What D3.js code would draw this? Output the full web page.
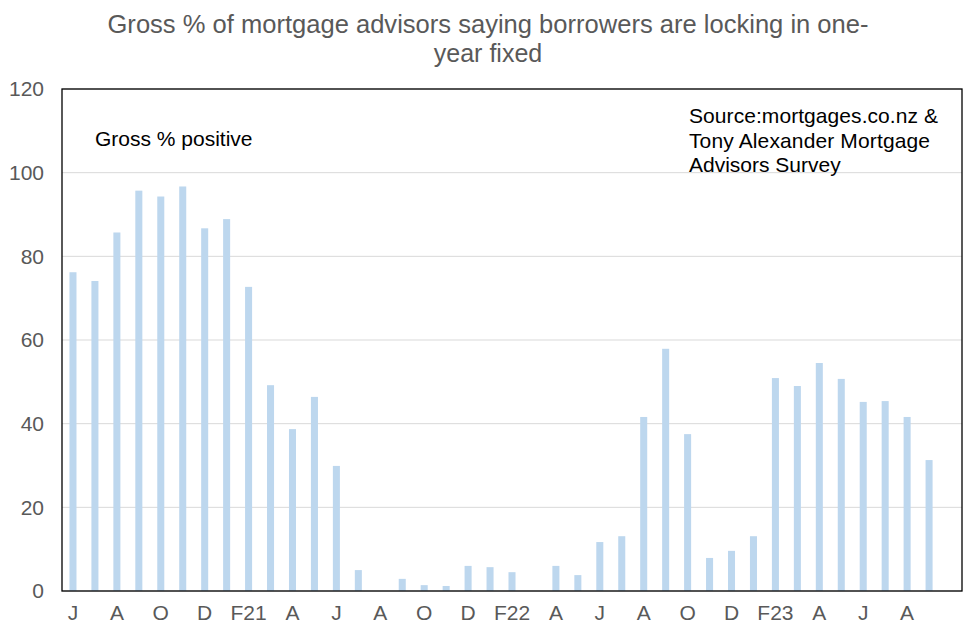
<!DOCTYPE html>
<html>
<head>
<meta charset="utf-8">
<script src="https://cdn.jsdelivr.net/npm/d3@7"></script>
<style>
  body { margin: 0; background: #fff; }
  text { font-family: "Liberation Sans", Arial, sans-serif; }
</style>
</head>
<body>
<div id="chart"></div>
<script>
// monthly survey, Jun 2020 .. Oct 2023
const months = ["Jun20","Jul20","Aug20","Sep20","Oct20","Nov20","Dec20","Jan21","Feb21","Mar21",
  "Apr21","May21","Jun21","Jul21","Aug21","Sep21","Oct21","Nov21","Dec21","Jan22",
  "Feb22","Mar22","Apr22","May22","Jun22","Jul22","Aug22","Sep22","Oct22","Nov22",
  "Dec22","Jan23","Feb23","Mar23","Apr23","May23","Jun23","Jul23","Aug23","Sep23","Oct23"];

const tickLabels = ["J","","A","","O","","D","","F21","","A","","J","","A","","O","","D","",
  "F22","","A","","J","","A","","O","","D","","F23","","A","","J","","A","",""];

const grossPositive = [76.2,74.1,85.7,95.7,94.3,96.7,86.7,88.9,72.7,49.2,
  38.7,46.4,29.9,5.0,null,2.9,1.4,1.2,6.0,5.7,
  4.5,null,6.0,3.8,11.7,13.1,41.6,57.9,37.5,7.9,
  9.6,13.1,50.9,49.0,54.5,50.7,45.2,45.4,41.6,31.3,null];

const yTicks = [0,20,40,60,80,100,120];

const width = 976;
const height = 638;
const margin = {left:62, right:14, top:89, bottom:47};

const svg = d3.select("#chart")
  .append("svg")
  .attr("width", width)
  .attr("height", height);

const xScale = d3.scaleBand()
  .domain(months)
  .range([margin.left, width - margin.right])
  .paddingInner(0.68)
  .paddingOuter(0.34);

const yScale = d3.scaleLinear()
  .domain([0,120])
  .range([height - margin.bottom, margin.top]);

// gridlines
svg.append("g")
  .selectAll("line")
  .data(yTicks)
  .enter()
  .append("line")
    .attr("x1", margin.left)
    .attr("x2", width - margin.right)
    .attr("y1", d => yScale(d))
    .attr("y2", d => yScale(d))
    .attr("stroke", "#d9d9d9")
    .attr("stroke-width", 1);

// bars
svg.selectAll(".bar")
  .data(grossPositive.map((v,i) => ({month: months[i], value: v})).filter(d => d.value != null))
  .enter()
  .append("rect")
    .attr("class", "bar")
    .attr("x", d => xScale(d.month))
    .attr("y", d => yScale(d.value))
    .attr("width", xScale.bandwidth())
    .attr("height", d => yScale(0) - yScale(d.value))
    .attr("fill", "#bdd7ee");

// plot border
svg.append("rect")
  .attr("x", margin.left)
  .attr("y", margin.top)
  .attr("width", width - margin.left - margin.right)
  .attr("height", height - margin.top - margin.bottom)
  .attr("fill", "none")
  .attr("stroke", "#000")
  .attr("stroke-width", 1.3);

// y axis
const yAxis = svg.append("g")
  .attr("transform", `translate(${margin.left - 18},0)`)
  .call(d3.axisLeft(yScale).tickValues(yTicks).tickSize(0).tickPadding(0));
yAxis.select(".domain").remove();
yAxis.selectAll("text")
  .attr("font-size", "21px")
  .attr("font-family", "Liberation Sans, Arial, sans-serif")
  .attr("fill", "#595959");

// x axis
const xAxis = svg.append("g")
  .attr("transform", `translate(0,${height - margin.bottom})`)
  .call(d3.axisBottom(xScale).tickSize(0).tickPadding(14)
    .tickFormat((d,i) => tickLabels[i]));
xAxis.select(".domain").remove();
xAxis.selectAll("text")
  .attr("font-size", "21px")
  .attr("font-family", "Liberation Sans, Arial, sans-serif")
  .attr("fill", "#595959");

// title
const title = svg.append("text")
  .attr("text-anchor", "middle")
  .attr("font-size", "25px")
  .attr("fill", "#595959");
title.append("tspan").attr("x", 488).attr("y", 33)
  .attr("textLength", 761).attr("lengthAdjust", "spacingAndGlyphs")
  .text("Gross % of mortgage advisors saying borrowers are locking in one-");
title.append("tspan").attr("x", 488).attr("y", 62)
  .text("year fixed");

// annotations
svg.append("text")
  .attr("x", 95).attr("y", 146)
  .attr("font-size", "21px")
  .attr("fill", "#000")
  .text("Gross % positive");

const source = svg.append("text")
  .attr("font-size", "21px")
  .attr("fill", "#000");
source.append("tspan").attr("x", 689).attr("y", 123)
  .attr("textLength", 249).attr("lengthAdjust", "spacing")
  .text("Source:mortgages.co.nz &");
source.append("tspan").attr("x", 689).attr("y", 148)
  .attr("textLength", 241).attr("lengthAdjust", "spacing")
  .text("Tony Alexander Mortgage");
source.append("tspan").attr("x", 689).attr("y", 172).text("Advisors Survey");
</script>
</body>
</html>
